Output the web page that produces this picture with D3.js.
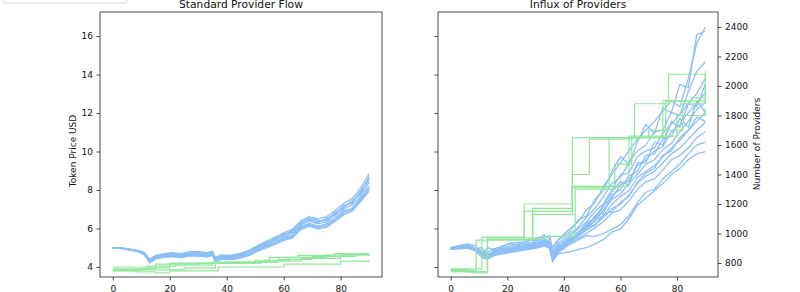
<!DOCTYPE html>
<html>
<head>
<meta charset="utf-8">
<script src="https://cdn.jsdelivr.net/npm/d3@7"></script>
<style>
  body { margin: 0; background: #fff; }
  svg { font-family: "DejaVu Sans", sans-serif; }
</style>
</head>
<body>
<svg id="chart" width="800" height="292"></svg>
<script>
// sample steps shared by every blue run
var steps = [0,3,6,9,11,13,15,18,21,24,27,30,33,35,36,38,42,45,48,51,54,57,60,63,66,69,72,75,78,81,84,87,90];

// left panel: token price runs (USD)
var priceRuns = [
  [5.00,4.99,4.93,4.86,4.76,4.40,4.60,4.70,4.75,4.70,4.80,4.80,4.75,4.82,4.50,4.62,4.62,4.72,4.88,5.12,5.35,5.55,5.78,5.95,6.40,6.62,6.50,6.62,6.92,7.30,7.55,8.10,8.85],
  [5.00,4.98,4.92,4.84,4.72,4.34,4.55,4.64,4.68,4.62,4.74,4.72,4.68,4.74,4.42,4.55,4.55,4.65,4.80,5.04,5.26,5.46,5.68,5.84,6.28,6.50,6.36,6.46,6.78,7.12,7.38,7.90,8.60],
  [5.00,4.97,4.90,4.82,4.70,4.30,4.52,4.60,4.63,4.56,4.69,4.67,4.62,4.70,4.36,4.50,4.49,4.59,4.74,4.97,5.18,5.38,5.58,5.74,6.18,6.40,6.24,6.34,6.64,7.00,7.22,7.72,8.40],
  [5.00,4.98,4.89,4.80,4.68,4.28,4.48,4.56,4.60,4.53,4.65,4.63,4.58,4.66,4.32,4.46,4.44,4.54,4.68,4.90,5.10,5.30,5.50,5.64,6.08,6.28,6.12,6.22,6.52,6.86,7.06,7.56,8.20],
  [5.00,4.96,4.88,4.78,4.64,4.22,4.42,4.50,4.54,4.48,4.58,4.57,4.52,4.60,4.26,4.40,4.38,4.48,4.60,4.82,5.00,5.18,5.38,5.50,5.94,6.12,5.98,6.06,6.36,6.70,6.90,7.40,7.95],
  [5.00,4.97,4.91,4.83,4.73,4.36,4.56,4.66,4.70,4.60,4.77,4.76,4.66,4.76,4.45,4.58,4.53,4.62,4.84,5.08,5.22,5.50,5.64,5.90,6.24,6.56,6.42,6.40,6.84,7.06,7.46,7.80,8.70],
  [5.00,4.98,4.90,4.81,4.69,4.26,4.46,4.53,4.57,4.54,4.62,4.60,4.60,4.63,4.30,4.44,4.47,4.56,4.66,4.86,5.13,5.26,5.52,5.60,6.12,6.22,6.08,6.26,6.48,6.92,7.00,7.62,8.10],
  [5.00,4.99,4.92,4.85,4.74,4.38,4.58,4.62,4.72,4.66,4.72,4.78,4.70,4.72,4.48,4.60,4.58,4.68,4.82,5.00,5.30,5.42,5.72,5.80,6.34,6.46,6.30,6.54,6.72,7.20,7.30,7.98,8.50],
  [5.00,4.97,4.89,4.80,4.66,4.24,4.44,4.52,4.56,4.50,4.60,4.59,4.56,4.62,4.28,4.42,4.42,4.52,4.64,4.88,5.06,5.24,5.44,5.56,6.02,6.18,6.02,6.14,6.42,6.78,6.96,7.48,8.05]
];

// left panel: step runs (x where the value changes, value)
var priceStepX = [
  [0,12,22,35,55,65,78,90],
  [0,10,15,30,50,62,75,90],
  [0,8,15,20,37,60,80,90],
  [0,12,20,40,58,70,85,90],
  [0,10,25,36,52,66,80,90]
];
var priceStepY = [
  [4.00,4.05,4.10,4.25,4.50,4.60,4.70,4.70],
  [3.85,3.90,4.15,4.20,4.35,4.50,4.62,4.65],
  [3.80,3.75,3.70,3.80,4.00,4.15,4.30,4.25],
  [3.90,3.95,4.20,4.25,4.40,4.55,4.68,4.68],
  [3.82,3.85,3.95,4.20,4.30,4.45,4.65,4.65]
];

// right panel: number of providers runs
var providerRuns = [
  [905,918,930,915,860,905,890,915,930,925,950,955,990,960,905,960,1030,1080,1160,1210,1320,1400,1480,1560,1640,1700,1760,1830,1900,1860,2050,2290,2400],
  [903,915,925,895,905,850,880,905,935,940,945,970,975,985,880,955,1010,1090,1120,1230,1290,1420,1520,1470,1620,1740,1680,1850,1820,2010,1990,2350,2370],
  [900,910,920,900,880,870,895,900,915,930,925,950,965,945,860,935,995,1040,1110,1170,1250,1340,1380,1480,1560,1600,1690,1700,1820,1800,1960,2100,2165],
  [898,906,918,890,875,845,880,890,905,920,935,940,955,940,850,920,980,1030,1080,1150,1200,1300,1400,1410,1520,1560,1580,1680,1740,1810,1880,1950,2050],
  [900,902,912,885,850,860,870,895,900,905,920,935,950,935,845,905,970,1000,1070,1110,1190,1240,1330,1360,1460,1500,1560,1590,1690,1740,1820,1880,1955],
  [897,905,908,892,865,835,875,880,895,910,915,920,945,925,840,900,960,1010,1050,1080,1160,1230,1270,1340,1400,1470,1500,1570,1610,1690,1760,1840,1890],
  [899,900,910,880,845,850,860,885,885,895,910,915,935,920,830,895,950,990,1030,1090,1120,1200,1250,1290,1380,1420,1460,1520,1580,1630,1700,1760,1820],
  [896,903,906,885,870,830,858,872,880,890,900,910,930,905,825,885,945,980,1020,1060,1110,1170,1200,1260,1340,1390,1420,1480,1540,1580,1640,1700,1755],
  [894,898,904,878,840,845,850,868,875,885,895,905,920,910,815,878,935,965,1000,1040,1080,1140,1160,1220,1300,1350,1370,1430,1500,1530,1580,1650,1690],
  [892,896,900,882,835,825,848,862,870,880,890,900,915,900,810,870,925,955,985,980,1000,1030,1060,1120,1210,1280,1300,1370,1420,1470,1540,1600,1620],
  [899,904,911,886,852,832,862,878,886,894,905,910,930,905,820,862,875,890,905,930,960,1010,1030,1100,1190,1240,1290,1340,1400,1440,1500,1540,1555],
  [901,908,915,893,858,855,868,888,893,900,912,928,942,928,838,890,940,985,1040,1120,1140,1260,1300,1390,1420,1530,1540,1640,1660,1780,1720,1900,1820],
  [897,909,914,887,868,838,873,880,898,912,918,925,960,938,855,910,955,1005,1060,1100,1180,1280,1350,1330,1480,1480,1620,1600,1760,1720,1880,1860,2010],
  [898,904,917,896,862,842,871,884,891,903,911,926,947,932,846,902,962,996,1045,1055,1130,1150,1210,1250,1350,1410,1440,1530,1560,1650,1700,1790,1760]
];

// right panel: step runs
var providerStepX = [
  [0,8,13,26,43,65,77,90],
  [0,9,29,43,55,63,75,85,90],
  [0,11,26,43,49,63,80,90],
  [0,13,29,43,56,70,82,90],
  [0,6,13,33,44,58,64,76,90]
];
var providerStepY = [
  [750,735,960,1200,1650,1880,2080,2050],
  [745,955,1170,1320,1320,1650,1900,1920,1980],
  [760,975,1150,1400,1640,1660,1800,1850],
  [740,970,1130,1310,1650,1700,1880,2100],
  [755,740,960,980,1300,1470,1650,1900,1900]
];

var priceTicks = [4,6,8,10,12,14,16];
var providerTicks = [800,1000,1200,1400,1600,1800,2000,2200,2400];
var stepTicks = [0,20,40,60,80];

var blue = "#8cbff5", green = "#8fe69a";

var svg = d3.select("#chart");
var plotTop = 12, plotBottom = 277;

var x1 = d3.scaleLinear().domain([-4.5, 94.5]).range([100, 382]);
var x2 = d3.scaleLinear().domain([-4.5, 94.5]).range([438, 718]);
var yPrice = d3.scaleLinear().domain([3.48, 17.25]).range([plotBottom, plotTop]);
var yProv = d3.scaleLinear().domain([705, 2502]).range([plotBottom, plotTop]);

function styleAxis(g) {
  g.select(".domain").remove();
  g.selectAll(".tick line").attr("stroke", "#222").attr("stroke-width", 0.8);
  g.selectAll(".tick text").attr("fill", "#111").style("font-size", "9px").style("font-family", "DejaVu Sans");
}

function panel(x, y, runs, stepX, stepY, title) {
  var g = svg.append("g");

  var line = d3.line().x((d, i) => x(steps[i])).y(d => y(d));
  g.selectAll(".run").data(runs).enter().append("path")
    .attr("d", line).attr("fill", "none")
    .attr("stroke", blue).attr("stroke-width", 1.3);

  var stepLine = d3.line().curve(d3.curveStepAfter).x(d => x(d[0])).y(d => y(d[1]));
  g.selectAll(".step").data(stepX.map((xs, k) => xs.map((v, i) => [v, stepY[k][i]]))).enter().append("path")
    .attr("d", stepLine).attr("fill", "none")
    .attr("stroke", green).attr("stroke-width", 1.2);

  g.append("g").attr("transform", `translate(0,${plotBottom})`)
    .call(d3.axisBottom(x).tickValues(stepTicks).tickSize(3.5).tickPadding(5))
    .call(styleAxis);

  g.append("rect")
    .attr("x", x.range()[0]).attr("y", plotTop)
    .attr("width", x.range()[1] - x.range()[0]).attr("height", plotBottom - plotTop)
    .attr("fill", "none").attr("stroke", "#222").attr("stroke-width", 0.8);

  g.append("text")
    .attr("x", (x.range()[0] + x.range()[1]) / 2).attr("y", 7.5)
    .attr("text-anchor", "middle").style("font-size", "10.7px").attr("fill", "#111")
    .text(title);
  return g;
}

var leftPanel = panel(x1, yPrice, priceRuns, priceStepX, priceStepY, "Standard Provider Flow");
leftPanel.append("g").attr("transform", "translate(100,0)")
  .call(d3.axisLeft(yPrice).tickValues(priceTicks).tickSize(3.5).tickPadding(3.5))
  .call(styleAxis);
leftPanel.append("text")
  .attr("transform", "translate(76,151) rotate(-90)")
  .attr("text-anchor", "middle").style("font-size", "9px").attr("fill", "#111")
  .text("Token Price USD");

var rightPanel = panel(x2, yProv, providerRuns, providerStepX, providerStepY, "Influx of Providers");
rightPanel.append("g").attr("transform", "translate(438,0)")
  .call(d3.axisLeft(yPrice).tickValues(priceTicks).tickSize(3.5).tickFormat(""))
  .call(styleAxis);
rightPanel.append("g").attr("transform", "translate(718,0)")
  .call(d3.axisRight(yProv).tickValues(providerTicks).tickFormat(d3.format("d")).tickSize(3.5).tickPadding(3.5))
  .call(styleAxis);
rightPanel.append("text")
  .attr("transform", "translate(760,144) rotate(-90)")
  .attr("text-anchor", "middle").style("font-size", "9px").attr("fill", "#111")
  .text("Number of Providers");

// legend box, clipped by the top edge
svg.append("rect")
  .attr("x", 3).attr("y", -30).attr("width", 124).attr("height", 33)
  .attr("rx", 2).attr("fill", "#fff").attr("fill-opacity", 0.8)
  .attr("stroke", "#d0d0d0").attr("stroke-width", 0.8);
</script>
</body>
</html>
